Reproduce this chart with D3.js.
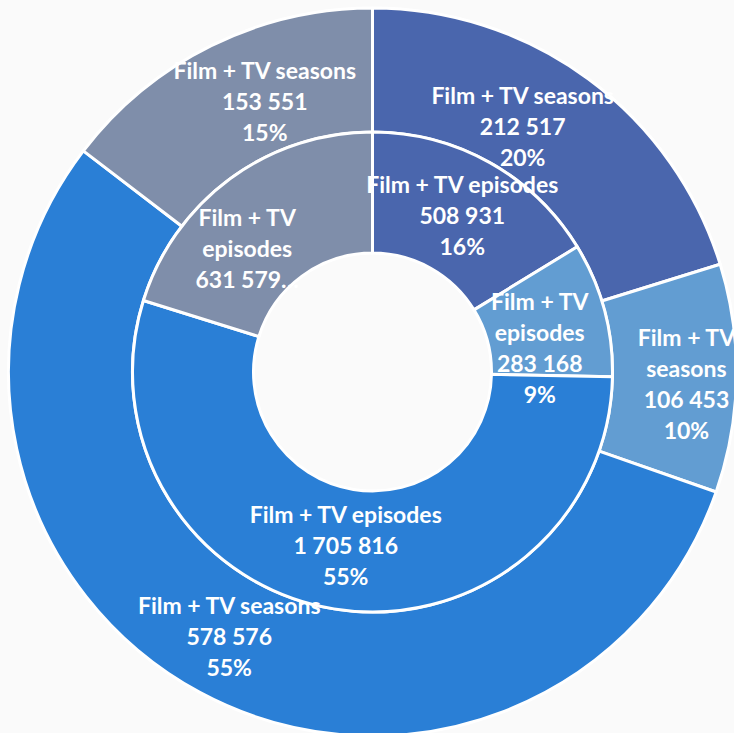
<html>

<head>
    <style>
        body { margin: 0; background: #fafafa; }
    </style>
</head>

<body>
    <svg id="chart"></svg>
</body>
<script src="https://cdnjs.cloudflare.com/ajax/libs/d3/7.8.5/d3.min.js"></script>
<script>
    // series shown in the two rings
    const innerName = "Film + TV episodes";
    const outerName = "Film + TV seasons";
    const episodes = [508931, 283168, 1705816, 631579];
    const seasons = [212517, 106453, 578576, 153551];
    const sliceColors = ["#4a66ad", "#629dd2", "#2a7fd6", "#7f8eaa"];

    // label tweaks (the original chart nudges/wraps some labels to fit)
    const innerLabelLayout = [
        { dx: 2, dy: 0 },
        { dx: -6, dy: 23, wrap: true },
        { dx: 2, dy: -3 },
        { dx: -19, dy: 21, wrap: true, maxLines: 3 }
    ];
    const outerLabelLayout = [
        { dx: -29, dy: -2 },
        { dx: 12, dy: 7, wrap: true },
        { dx: 0, dy: -1 },
        { dx: 26, dy: 0 }
    ];

    const width = 734,
        height = 733,
        cx = 372.5,
        cy = 372;

    const rHole = 119,
        rMid = 240,
        rOuter = 364,
        fontSize = 23,
        lineH = 31;

    const svg = d3.select('#chart')
        .attr('width', width)
        .attr('height', height)
        .style('display', 'block');

    svg.append('rect')
        .attr('width', width)
        .attr('height', height)
        .attr('fill', '#fafafa');

    const locale = d3.formatLocale({ decimal: ",", thousands: "\u00a0", grouping: [3], currency: ["", ""] });
    const fmt = locale.format(",d");

    const pie = d3.pie().sort(null).value(d => d);

    const g = svg.append('g').attr('transform', `translate(${cx},${cy})`);
    const labels = svg.append('g').attr('transform', `translate(${cx},${cy})`);

    function drawRing(values, name, r0, r1, layout) {
        const arc = d3.arc().innerRadius(r0).outerRadius(r1);
        const total = d3.sum(values);
        const arcs = pie(values);

        g.append('g')
            .selectAll('path')
            .data(arcs)
            .enter().append('path')
            .attr('d', arc)
            .attr('fill', (d, i) => sliceColors[i])
            .attr('stroke', '#fff')
            .attr('stroke-width', 3)
            .attr('stroke-linejoin', 'round');

        arcs.forEach((d, i) => {
            const opt = layout[i];
            const c = arc.centroid(d);
            let lines = opt.wrap ? ["Film + TV", name.replace("Film + TV ", "")] : [name];
            lines.push(fmt(d.value));
            lines.push(Math.round(d.value / total * 100) + "%");
            if (opt.maxLines && lines.length > opt.maxLines) {
                lines = lines.slice(0, opt.maxLines);
                lines[lines.length - 1] += "\u2026";
            }
            const x = c[0] + opt.dx,
                y = c[1] + opt.dy;
            const t = labels.append('text')
                .attr('text-anchor', 'middle')
                .attr('fill', '#fff')
                .style('font-family', 'Lato, "Open Sans", sans-serif')
                .style('font-weight', 'bold')
                .style('font-size', fontSize + 'px');
            lines.forEach((s, j) => {
                t.append('tspan')
                    .attr('x', x)
                    .attr('y', y + (j - (lines.length - 1) / 2) * lineH + fontSize * 0.36)
                    .text(s);
            });
        });
    }

    drawRing(seasons, outerName, rMid, rOuter, outerLabelLayout);
    drawRing(episodes, innerName, rHole, rMid, innerLabelLayout);
</script>

</html>
